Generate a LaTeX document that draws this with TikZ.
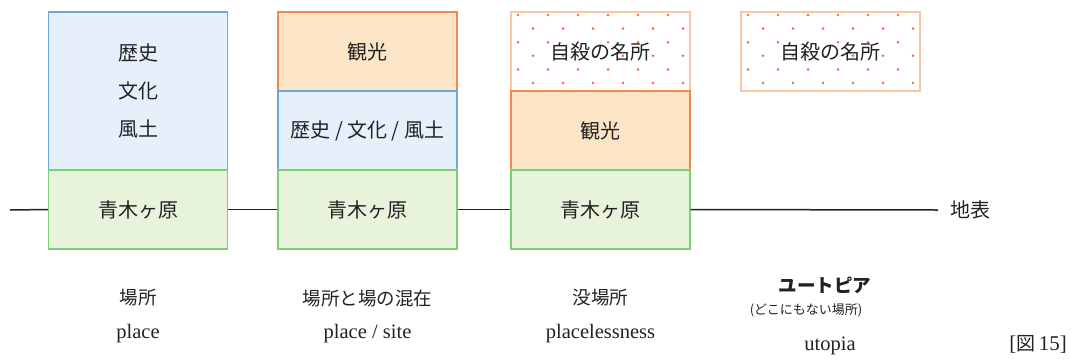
\documentclass[tikz,border=0pt]{standalone}
\usepackage{fontspec}
\setmainfont{Liberation Serif}
\newfontfamily\cjk{Noto Sans CJK JP}
\definecolor{bluefill}{HTML}{E6F0FA}
\definecolor{bluedraw}{HTML}{6FA8DC}
\definecolor{greenfill}{HTML}{E8F3DC}
\definecolor{greendraw}{HTML}{7DCE72}
\definecolor{orangefill}{HTML}{FCE5C7}
\definecolor{orangedraw}{HTML}{EE8A4E}
\definecolor{dotdraw}{HTML}{F8C6A6}
\definecolor{dotcol}{HTML}{F06A2A}
\definecolor{ink}{HTML}{222222}
\begin{document}
\begin{tikzpicture}[x=1pt,y=-1pt,
  box/.style={rectangle, line width=1.2pt, minimum width=179pt, inner sep=0pt, text=ink, font=\cjk\fontsize{20}{38}\selectfont, align=center},
  bluebox/.style={box, fill=bluefill, draw=bluedraw},
  greenbox/.style={box, fill=greenfill, draw=greendraw, minimum height=79pt},
  orangebox/.style={box, fill=orangefill, draw=orangedraw, minimum height=79pt},
  dotbox/.style={box, fill=white, draw=dotdraw, minimum height=79pt},
  cjklbl/.style={text=ink, inner sep=0pt, font=\cjk\fontsize{18.5}{20}\selectfont},
  latlbl/.style={text=ink, inner sep=0pt, font=\fontsize{20.5}{22}\selectfont},
  ground/.style={line width=1.5pt, draw=ink}
]
\useasboundingbox (0,0) rectangle (1071,360);

% column 1
\node[bluebox, minimum height=158pt] (b1) at (138,91) {歴史\\文化\\風土};
\node[greenbox] (g1) at (138,209.5) {青木ヶ原};

% column 2
\node[orangebox] (o2) at (367.5,51.5) {観光};
\node[bluebox, minimum height=79pt] (b2) at (367.5,130.5) {歴史 / 文化 / 風土};
\node[greenbox] (g2) at (367.5,209.5) {青木ヶ原};

% column 3
\node[dotbox] (d3) at (600.5,51.5) {};
\foreach \r in {0,...,5}{
  \pgfmathsetmacro{\yy}{15+13.6*\r}
  \pgfmathsetmacro{\off}{mod(\r,2)*15}
  \foreach \c in {0,...,5}{
    \fill[dotcol] ({518+\off+30*\c},\yy) circle (1.4pt);
  }
}
\node[box, fill=none, draw=none] (t3) at (600.5,51.5) {自殺の名所};
\node[orangebox] (o3) at (600.5,130.5) {観光};
\node[greenbox] (g3) at (600.5,209.5) {青木ヶ原};

% column 4
\node[dotbox] (d4) at (830.5,51.5) {};
\foreach \r in {0,...,5}{
  \pgfmathsetmacro{\yy}{15+13.6*\r}
  \pgfmathsetmacro{\off}{mod(\r,2)*15}
  \foreach \c in {0,...,5}{
    \fill[dotcol] ({748+\off+30*\c},\yy) circle (1.4pt);
  }
}
\node[box, fill=none, draw=none] (t4) at (830.5,51.5) {自殺の名所};

% ground line
\coordinate (gs) at (10,210);
\coordinate (ge) at (938,210);
\draw[ground] (gs) -- (g1.west);
\draw[ground] (g1.east) -- (g2.west);
\draw[ground] (g2.east) -- (g3.west);
\draw[ground] (g3.east) -- (ge);
\node[text=ink, font=\cjk\fontsize{20}{22}\selectfont, anchor=west, inner sep=0pt] (chi) at (950,210) {地表};

% labels
\node[cjklbl] (l1a) at (138,298) {場所};
\node[latlbl] (l1b) at (138,334) {place};
\node[cjklbl] (l2a) at (367.5,298) {場所と場の混在};
\node[latlbl] (l2b) at (367.5,334) {place / site};
\node[cjklbl] (l3a) at (600.5,298) {没場所};
\node[latlbl] (l3b) at (600.5,334) {placelessness};
\node[cjklbl, font=\cjk\bfseries\fontsize{18.5}{20}\selectfont] (l4a) at (825,285) {ユートピア};
\node[cjklbl, font=\cjk\fontsize{13}{14}\selectfont] (l4b) at (806,310) {(どこにもない場所)};
\node[latlbl] (l4c) at (830,346) {utopia};
\node[text=ink, inner sep=0pt, font=\fontsize{21}{22}\selectfont, anchor=east] (fig) at (1067,344) {[{\cjk\fontsize{19}{20}\selectfont 図}\,15]};
\end{tikzpicture}
\end{document}
